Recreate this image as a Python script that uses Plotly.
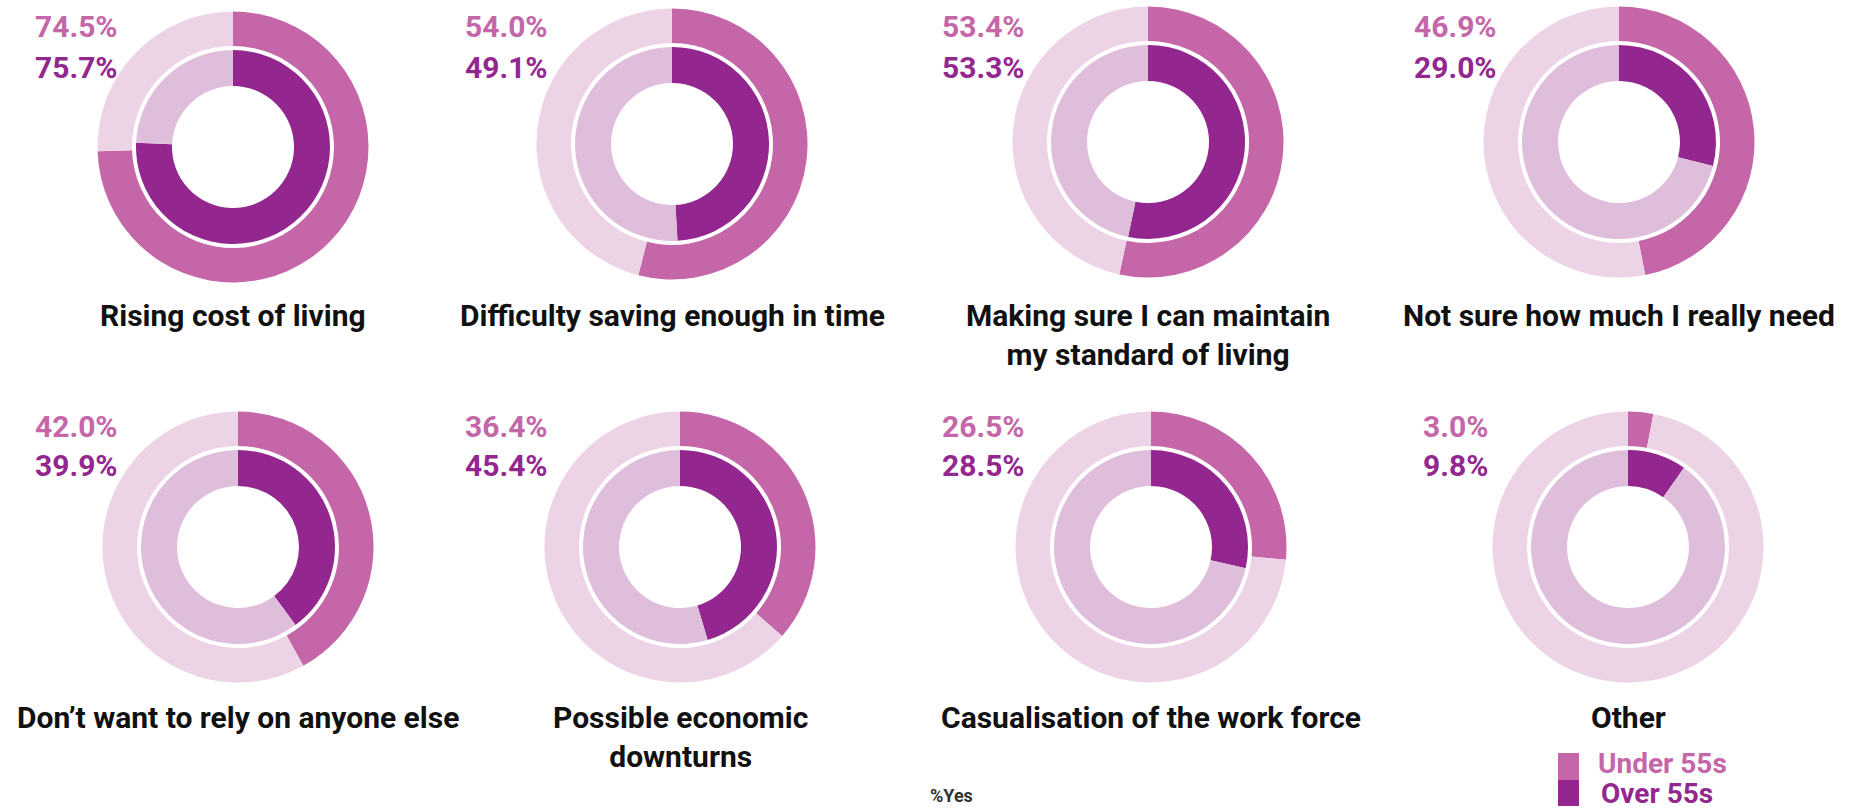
import plotly.graph_objects as go

# ---- data ----
categories = [
    "Rising cost of living",
    "Difficulty saving enough in time",
    "Making sure I can maintain<br>my standard of living",
    "Not sure how much I really need",
    "Don’t want to rely on anyone else",
    "Possible economic<br>downturns",
    "Casualisation of the work force",
    "Other",
]
under_55 = [74.5, 54.0, 53.4, 46.9, 42.0, 36.4, 26.5, 3.0]
over_55 = [75.7, 49.1, 53.3, 29.0, 39.9, 45.4, 28.5, 9.8]
series_names = ["Under 55s", "Over 55s"]
footnote = "%Yes"

# ---- layout constants ----
W, H = 1861, 809
centers = [(233, 147), (672, 144), (1148, 142), (1619, 142),
           (238, 547), (680, 547), (1151, 547), (1628, 547)]
R_OUT, R_OUT_HOLE = 135.5, 101
R_IN, R_IN_HOLE = 97, 61
label_x = [76, 506, 983, 1455, 76, 506, 983, 1455]
label_y_under = [27, 27, 27, 27, 426, 426, 426, 426]
label_y_over = [67, 67, 67, 67, 466, 466, 466, 466]
title_top = [296, 296, 296, 296, 698, 698, 698, 698]

C_UNDER, C_UNDER_L = "#C466A8", "#EDD3E6"
C_OVER, C_OVER_L = "#93278F", "#DFBEDC"
FONT = "Roboto"

fig = go.Figure()


def dom(cx, cy, r):
    return dict(x=[(cx - r) / W, (cx + r) / W], y=[1 - (cy + r) / H, 1 - (cy - r) / H])


for i, cat in enumerate(categories):
    cx, cy = centers[i]
    fig.add_trace(go.Pie(
        values=[under_55[i], 100 - under_55[i]],
        labels=["Yes", "No"],
        marker=dict(colors=[C_UNDER, C_UNDER_L], line=dict(width=0)),
        hole=R_OUT_HOLE / R_OUT, sort=False, direction="clockwise", rotation=0,
        textinfo="none", hoverinfo="skip", showlegend=False,
        domain=dom(cx, cy, R_OUT),
    ))
    fig.add_trace(go.Pie(
        values=[over_55[i], 100 - over_55[i]],
        labels=["Yes", "No"],
        marker=dict(colors=[C_OVER, C_OVER_L], line=dict(width=0)),
        hole=R_IN_HOLE / R_IN, sort=False, direction="clockwise", rotation=0,
        textinfo="none", hoverinfo="skip", showlegend=False,
        domain=dom(cx, cy, R_IN),
    ))
    fig.add_annotation(x=label_x[i] / W, y=1 - label_y_under[i] / H, xref="paper", yref="paper",
                       text=f"<b>{under_55[i]:.1f}%</b>", showarrow=False,
                       xanchor="center", yanchor="middle",
                       font=dict(family=FONT, size=30, color=C_UNDER))
    fig.add_annotation(x=label_x[i] / W, y=1 - label_y_over[i] / H, xref="paper", yref="paper",
                       text=f"<b>{over_55[i]:.1f}%</b>", showarrow=False,
                       xanchor="center", yanchor="middle",
                       font=dict(family=FONT, size=30, color=C_OVER))
    fig.add_annotation(x=cx / W, y=1 - title_top[i] / H, xref="paper", yref="paper",
                       text=f"<b>{cat}</b>", showarrow=False,
                       xanchor="center", yanchor="top", align="center",
                       font=dict(family=FONT, size=30, color="#111111"))

# legend
fig.add_shape(type="rect", xref="paper", yref="paper",
              x0=1558 / W, x1=1579 / W, y0=1 - 780 / H, y1=1 - 753 / H,
              fillcolor=C_UNDER, line=dict(width=0))
fig.add_shape(type="rect", xref="paper", yref="paper",
              x0=1558 / W, x1=1579 / W, y0=1 - 806 / H, y1=1 - 780 / H,
              fillcolor=C_OVER, line=dict(width=0))
fig.add_annotation(x=1596 / W, y=1 - 763 / H, xref="paper", yref="paper",
                   text=f"<b>{series_names[0]}</b>", showarrow=False,
                   xanchor="left", yanchor="middle",
                   font=dict(family=FONT, size=28, color=C_UNDER))
fig.add_annotation(x=1599 / W, y=1 - 793 / H, xref="paper", yref="paper",
                   text=f"<b>{series_names[1]}</b>", showarrow=False,
                   xanchor="left", yanchor="middle",
                   font=dict(family=FONT, size=28, color=C_OVER))
fig.add_annotation(x=951 / W, y=1 - 795 / H, xref="paper", yref="paper",
                   text=f"<b>{footnote}</b>", showarrow=False,
                   xanchor="center", yanchor="middle",
                   font=dict(family=FONT, size=18, color="#333333"))

fig.update_layout(width=W, height=H, margin=dict(l=0, r=0, t=0, b=0),
                  paper_bgcolor="white", plot_bgcolor="white")
fig.write_html("out.html", config={"displayModeBar": False})

# remove the browser's default body margin so the figure fills the window exactly
with open("out.html", "r", encoding="utf-8") as f:
    html = f.read()
html = html.replace("<head>", "<head><style>html,body{margin:0;padding:0;overflow:hidden;}</style>", 1)
with open("out.html", "w", encoding="utf-8") as f:
    f.write(html)
